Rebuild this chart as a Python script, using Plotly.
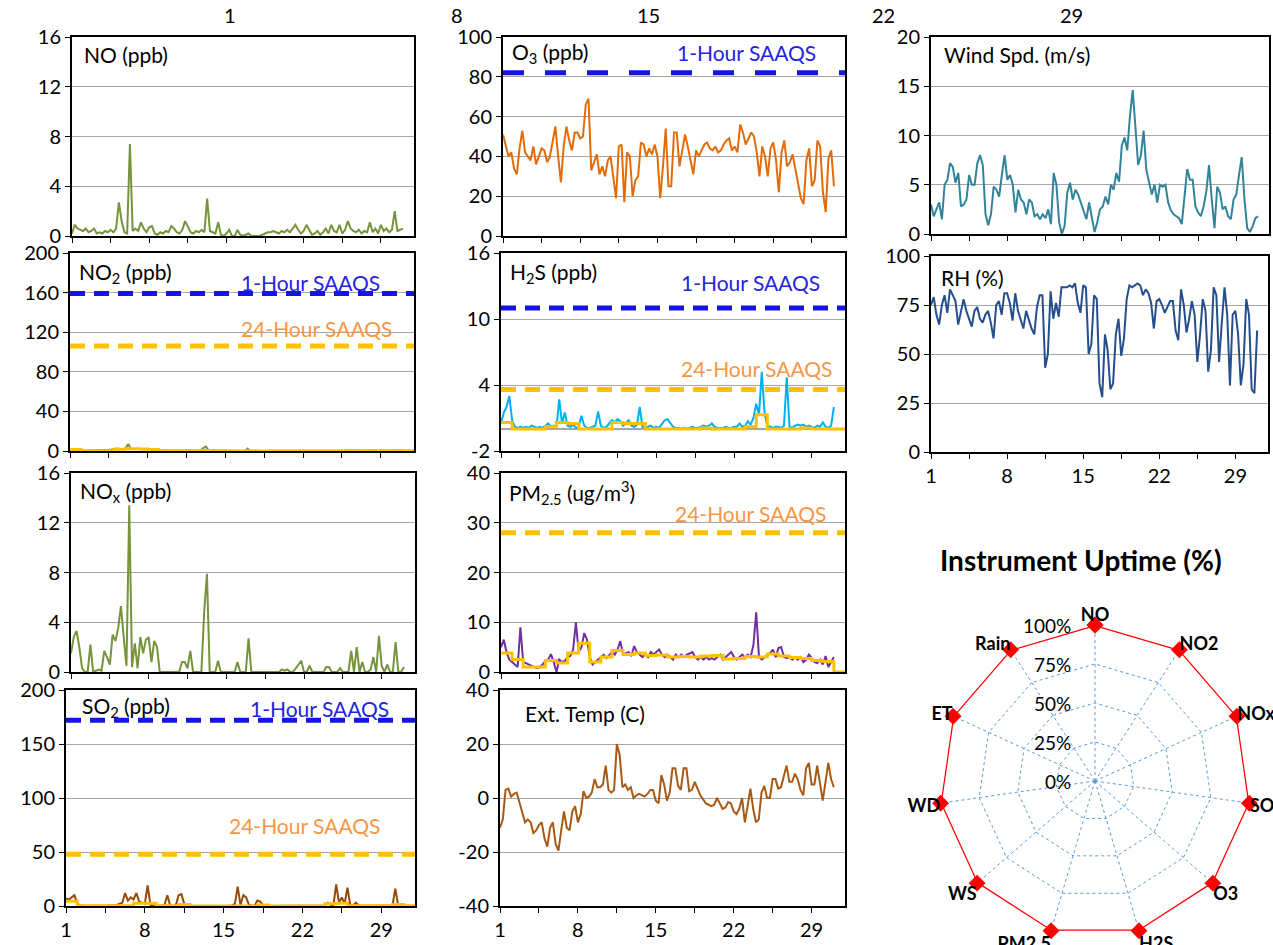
import plotly.graph_objects as go

W, H = 1273, 945
FONT = "Lato, 'Open Sans', sans-serif"

# ---- time axes: 6-hourly readings (day of month) and daily averages ----
hours6 = [1 + i / 4 for i in range(121)]
days = list(range(1, 33))

# ---- hourly-ish series (4 values per day) ----
no_ppb = [0.2, 0.9, 0.6, 0.5, 0.4, 0.6, 0.3, 0.4,
          0.6, 0.2, 0.3, 0.2, 0.4, 0.3, 0.5, 0.3,
          0.6, 2.7, 1.2, 0.3, 0.2, 7.4, 0.4, 0.6,
          0.4, 1.1, 0.6, 0.3, 0.7, 0.8, 0.2, 0.1,
          0.3, 0.2, 0.4, 0.3, 0.8, 0.6, 0.3, 0.2,
          0.5, 1.2, 0.7, 0.3, 0.2, 0.4, 0.3, 0.5,
          0.3, 3.0, 0.4, 0.3, 0.2, 1.1, 0.1, 0.0,
          0.2, 0.5, 0.0, 0.0, 0.5, 0.1, 0.0, 0.1,
          0.2, 0.0, 0.0, 0.0, 0.0, 0.1, 0.2, 0.3,
          0.3, 0.4, 0.3, 0.2, 0.4, 0.3, 0.5, 0.3,
          0.6, 0.9, 0.5, 0.2, 0.4, 0.9, 0.5, 0.1,
          0.2, 0.4, 0.1, 0.3, 0.6, 0.2, 0.9, 0.4,
          0.3, 0.9, 0.2, 0.5, 1.2, 0.6, 0.4, 0.3,
          0.5, 0.2, 0.4, 0.3, 1.1, 0.3, 0.6, 0.2,
          0.9, 0.4, 0.6, 0.3, 0.5, 2.0, 0.4, 0.5,
          0.6]

no2_ppb = [1.5, 1.2, 0.8, 0.5, 0.3, 0.2, 0.3, 0.5,
           0.6, 0.3, 0.4, 0.3, 0.5, 0.6, 1.2, 1.5,
           1.8, 2.5, 2.0, 1.5, 2.2, 7.0, 1.8, 2.0,
           1.6, 2.2, 1.5, 1.8, 2.0, 1.4, 1.6, 1.2,
           0.4, 0.3, 0.2, 0.3, 0.5, 0.4, 0.3, 0.2,
           0.5, 0.8, 0.4, 0.3, 0.2, 0.3, 0.2, 0.5,
           3.0, 4.5, 0.4, 0.3, 0.2, 0.8, 0.1, 0.0,
           0.2, 0.3, 0.0, 0.0, 0.3, 0.1, 0.0, 0.1,
           2.5, 0.0, 0.0, 0.0, 0.0, 0.1, 0.1, 0.2,
           0.2, 0.3, 0.2, 0.1, 0.3, 0.2, 0.3, 0.2,
           0.4, 0.6, 0.4, 0.2, 0.3, 0.6, 0.4, 0.1,
           0.1, 0.3, 0.1, 0.2, 0.4, 0.2, 0.6, 0.3,
           0.2, 0.6, 0.1, 0.3, 0.8, 0.4, 0.3, 0.2,
           0.3, 0.1, 0.3, 0.2, 0.7, 0.2, 0.4, 0.1,
           0.6, 0.3, 0.4, 0.2, 0.3, 1.2, 0.3, 0.3,
           0.4]

nox_ppb = [1.5, 2.8, 3.3, 2.0, 0.3, 0.0, 0.0, 2.2,
           0.0, 0.1, 0.2, 0.1, 1.7, 1.2, 0.6, 3.0,
           2.5, 3.5, 5.3, 2.8, 0.5, 13.4, 0.4, 2.3,
           0.3, 2.8, 1.5, 2.6, 2.8, 0.8, 2.5, 2.0,
           0.0, 0.0, 0.0, 0.0, 0.0, 0.0, 0.0, 0.0,
           0.8, 0.8, 0.3, 1.7, 0.0, 0.0, 0.0, 0.0,
           4.8, 7.9, 0.0, 0.0, 0.0, 0.9, 0.0, 0.0,
           0.0, 0.0, 0.0, 0.0, 0.8, 0.0, 0.0, 0.0,
           2.7, 0.0, 0.0, 0.0, 0.0, 0.0, 0.0, 0.0,
           0.0, 0.0, 0.0, 0.0, 0.2, 0.1, 0.2, 0.0,
           0.0, 0.3, 0.5, 0.9, 0.0, 0.0, 0.5, 0.0,
           0.0, 0.0, 0.0, 0.0, 0.4, 0.4, 0.0, 0.0,
           0.0, 0.3, 0.0, 0.0, 0.0, 1.7, 0.0, 2.0,
           0.0, 0.8, 0.0, 0.0, 0.2, 1.2, 0.0, 2.9,
           0.5, 0.0, 0.6, 0.0, 0.0, 2.4, 0.0, 0.0,
           0.4]

so2_ppb = [7.0, 6.0, 8.0, 10.0, 2.0, 0.5, 0.2, 0.0,
           0.0, 0.0, 0.2, 0.0, 0.0, 0.1, 0.0, 0.3,
           0.5, 0.3, 1.0, 2.0, 3.0, 12.0, 5.0, 8.0,
           6.0, 12.0, 4.0, 3.0, 2.0, 19.0, 1.0, 0.5,
           0.0, 0.2, 0.5, 1.0, 10.0, 0.5, 0.0, 0.5,
           10.0, 11.0, 2.0, 1.0, 0.5, 0.2, 0.0, 0.0,
           0.0, 0.0, 0.0, 0.1, 0.0, 0.0, 0.0, 0.0,
           0.0, 0.0, 0.0, 0.5, 2.0, 18.0, 1.0, 10.0,
           8.0, 1.0, 0.5, 0.3, 5.0, 4.0, 0.5, 0.0,
           0.0, 0.0, 0.0, 0.0, 0.0, 0.0, 0.0, 0.0,
           0.0, 0.0, 0.0, 0.0, 0.0, 0.0, 0.0, 0.0,
           0.0, 0.0, 0.0, 0.0, 0.5, 3.0, 1.0, 0.5,
           20.0, 3.0, 8.0, 2.0, 17.0, 1.0, 0.5, 3.0,
           0.5, 0.0, 0.0, 0.0, 0.0, 0.0, 0.0, 0.0,
           0.0, 0.0, 0.0, 0.0, 0.5, 16.0, 1.0, 0.5,
           0.0]

o3_ppb = [51, 45, 40, 42, 34, 31, 44, 53,
          42, 40, 38, 45, 36, 40, 44, 43,
          37, 40, 47, 55, 40, 27, 45, 55,
          48, 43, 52, 52, 49, 50, 66, 69,
          33, 37, 41, 31, 35, 30, 38, 40,
          28, 19, 45, 46, 17, 42, 40, 20,
          28, 30, 47, 46, 40, 44, 41, 46,
          40, 19, 35, 54, 25, 25, 52, 52,
          35, 44, 51, 45, 38, 31, 43, 40,
          43, 46, 47, 44, 43, 45, 42, 43,
          46, 48, 49, 43, 45, 42, 56, 52,
          46, 49, 52, 50, 42, 30, 45, 40,
          30, 44, 47, 38, 22, 42, 48, 35,
          37, 41, 33, 25, 19, 16, 38, 44,
          25, 28, 48, 45, 22, 12, 39, 43,
          25]

h2s_ppb = [0.5, 1.5, 2.0, 3.0, 0.8, 0.2, 0.1, 0.2,
           0.1, 0.2, 0.1, 0.3, 0.2, 0.1, 0.2, 0.1,
           0.3, 0.5, 0.2, 0.3, 0.2, 2.7, 0.5, 1.5,
           0.3, 0.2, 0.4, 0.1, 0.2, 1.2, 0.3, 0.1,
           0.1, 0.2, 0.3, 1.6, 0.3, 0.1, 0.2, 0.5,
           0.8, 0.6, 0.9, 0.7, 0.3, 0.5, 0.8, 0.3,
           0.2, 0.4, 2.0, 0.2, 0.1, 0.2, 0.3, 0.1,
           0.2, 0.1, 0.5, 0.8, 0.9, 0.6, 0.2, 0.1,
           0.1, 0.0, 0.1, 0.0, 0.1, 0.2, 0.1, 0.1,
           0.2, 0.3, 0.2, 0.3, 0.5, 0.2, 0.1, 0.1,
           0.1, 0.2, 0.1, 0.1, 0.2, 0.2, 0.5, 0.2,
           0.3, 0.7, 0.4, 1.0, 2.3, 1.3, 5.2, 1.5,
           0.3, 0.2, 0.1, 0.2, 0.2, 0.1, 0.3, 4.7,
           0.2, 0.1, 0.3, 0.4, 0.3, 0.4, 0.2, 0.3,
           0.2, 0.1, 0.3, 0.2, 0.6, 0.2, 0.1, 0.3,
           2.0]

pm25 = [5.0, 6.5, 4.0, 2.5, 2.0, 1.5, 1.0, 9.0,
        2.0, 1.8, 1.5, 1.2, 1.0, 0.8, 1.0, 1.5,
        2.2, 2.5, 3.6, 2.0, 0.0, 2.5, 2.0, 2.2,
        3.0, 3.2, 4.5, 10.0, 4.0, 5.0, 7.8, 6.5,
        3.0, 1.5, 2.0, 2.5, 3.0, 3.5, 2.8, 3.5,
        4.0, 3.5, 4.5, 6.2, 3.5, 3.8, 4.0, 3.2,
        5.2, 4.0, 3.5, 3.0, 3.5, 3.0, 4.0, 3.5,
        4.0, 4.5, 3.5, 3.0, 3.5, 3.0, 2.5, 3.5,
        3.0, 3.5, 3.0, 3.5, 3.8, 4.0, 3.0, 2.5,
        3.0, 2.5, 3.0, 2.5, 2.8, 2.5, 3.0, 3.5,
        2.5, 3.0, 3.5, 4.0, 3.0, 2.5, 3.0, 3.5,
        3.0, 3.5, 3.0, 5.5, 12.0, 3.0, 2.5, 3.0,
        3.5, 3.8, 4.5, 3.0, 4.8, 5.0, 3.0, 2.8,
        3.0, 2.5, 3.0, 2.5, 3.0, 2.0, 2.5, 3.5,
        2.8, 2.0, 1.8, 2.5, 1.5, 3.2, 1.0, 2.0,
        3.0]

ext_temp = [-11, -8, 3, 3.5, 0.5, 1.5, 2, -2,
            -5, -9, -8, -9, -13, -12, -10, -9,
            -15, -18, -11, -9, -17, -19.5, -12, -5,
            -11, -12, -5, -3, -9, -6, 2.5, 0,
            0.5, 2, 7, 4, 4, 5, 12, 3,
            2, 3, 20, 16, 4, 5, 3, 4,
            0, 1, 1.5, 1, 0.5, 1.5, 3, 3,
            -1, -2, 8.5, 5, -1, 2, 11, 11,
            4.5, 3, 11, 11, 2.5, 3, 6, 3.5,
            1, -0.5, -2, -2.5, -3, -2.5, 0, -2,
            -4, -3.5, -1.5, -2, -5, -6, -4, 0,
            -9, -3, 3.5, -4, -9, -8, 2, 4.5,
            0, 0, 7, 7, 3.5, 4, 8, 12,
            6, 6, 9, 7, 3, 1, 11, 13,
            5, 5, 12, 6, -1, 6, 13, 7,
            4]

wind_spd = [3.0, 1.8, 2.5, 3.2, 1.5, 5.0, 5.5, 7.2,
            6.8, 5.2, 6.2, 2.8, 3.0, 3.5, 6.0, 5.0,
            5.0, 7.2, 8.0, 7.0, 2.0, 0.9, 2.0, 4.8,
            4.5, 3.8, 6.0, 8.0, 5.5, 6.0, 5.0, 2.2,
            4.5, 3.5, 3.2, 2.0, 3.5, 3.2, 1.8, 2.0,
            1.5, 2.0, 1.6, 2.5, 1.0, 6.2, 5.0, 1.2,
            0.0, 0.8, 4.2, 5.2, 3.5, 4.5, 4.0, 3.2,
            2.5, 1.5, 3.2, 1.5, 0.2, 1.2, 2.5, 2.8,
            3.8, 3.0, 5.0, 4.5, 6.2, 5.3, 9.0, 9.8,
            8.5, 12.0, 14.6, 10.8, 7.0, 8.0, 10.5, 6.5,
            5.2, 4.0, 5.0, 3.2, 5.0, 4.8, 5.0, 3.2,
            2.4, 2.0, 1.8, 1.6, 1.0, 3.5, 6.6, 5.5,
            5.5, 2.8, 2.2, 1.8, 2.8, 4.3, 7.0, 3.5,
            0.6, 4.8, 4.2, 2.5, 2.8, 1.8, 1.5, 3.5,
            4.0, 6.0, 7.8, 3.5, 0.6, 0.2, 0.8, 1.6,
            1.8]

rh_pct = [75, 79, 70, 65, 75, 80, 71, 83,
          80, 77, 65, 72, 78, 72, 68, 64,
          72, 74, 68, 66, 70, 72, 66, 58,
          75, 77, 70, 81, 81, 76, 67, 81,
          72, 67, 63, 72, 67, 63, 60, 74,
          80, 80, 43, 50, 82, 68, 76, 69,
          84, 84, 84, 85, 84, 86, 76, 71,
          85, 84, 50, 55, 80, 78, 35, 28,
          60, 52, 32, 35, 60, 68, 49, 58,
          78, 85, 84, 85, 86, 85, 80, 83,
          81, 76, 63, 77, 78, 75, 71, 74,
          77, 77, 62, 57, 83, 75, 61, 68,
          77, 70, 46, 60, 78, 72, 41, 52,
          84, 80, 46, 66, 84, 70, 34, 70,
          72, 60, 34, 45, 78, 70, 32, 30,
          62]

# ---- daily (24-hour) averages, one per day, drawn as steps ----
no2_24h = [1.5, 0.3, 0.2, 0.3, 1.8, 2.2, 2.0, 1.6, 0.4, 0.3, 0.4, 0.2, 0.6, 0.3, 0.2, 0.1,
           0.2, 0.1, 0.2, 0.2, 0.3, 0.3, 0.2, 0.3, 0.3, 0.4, 0.3, 0.3, 0.3, 0.4, 0.3]
h2s_24h = [0.6, 0.0, 0.0, 0.0, 0.2, 0.6, 0.5, 0.0, 0.0, 0.0, 0.6, 0.5, 0.5, 0.0, 0.0, 0.0,
           0.0, 0.0, 0.1, 0.0, 0.0, 0.0, 0.2, 1.3, 0.0, 0.0, 0.0, 0.1, 0.0, 0.0, 0.0]
pm25_24h = [3.8, 2.5, 1.0, 1.0, 2.3, 1.8, 3.8, 5.8, 2.0, 3.0, 4.3, 3.5, 3.8, 3.3, 3.4, 3.0,
            3.1, 3.0, 3.2, 3.3, 2.6, 2.7, 3.1, 3.0, 3.6, 3.2, 2.9, 2.7, 2.3, 2.1, 0.0]
so2_24h = [4.5, 0.2, 0.2, 0.2, 0.2, 0.2, 2.5, 2.5, 0.3, 0.3, 1.5, 0.1, 0.1, 0.1, 0.1, 0.1,
           0.1, 1.0, 0.1, 0.1, 0.1, 0.1, 0.1, 2.0, 2.5, 0.2, 0.2, 0.2, 0.2, 1.5, 0.2]

# ---- ambient air quality standards ----
no2_1h_std, no2_24h_std = 159, 106
so2_1h_std, so2_24h_std = 172, 48
h2s_1h_std, h2s_24h_std = 11, 3.6
o3_1h_std = 82
pm25_24h_std = 28

# ---- instrument uptime ----
instruments = ["NO", "NO2", "NOx", "SO2", "O3", "H2S", "PM2.5", "WS", "WD", "ET", "Rain"]
uptime = [100, 100, 100, 100, 100, 100, 100, 100, 100, 100, 100]
uptime_ticks = [0, 25, 50, 75, 100]

GREEN = "#77933C"
YELLOW = "#FFC000"
STD_BLUE = "#1414E8"
TXT_BLUE = "#2525E0"
TXT_ORANGE = "#F79646"
TICK_SIZE = 20
LABEL_SIZE = 21

fig = go.Figure()


def ax_id(n):
    return "" if n == 1 else str(n)


def add_panel(n, box, yrange, yticks, show_xlabels=False, zeroline=False):
    x0, x1, y0, y1 = box
    xt = [1 + 3.5 * k for k in range(9)]
    xl = [str(int(v)) if k % 2 == 0 else "" for k, v in enumerate(xt)]
    frame = dict(showline=True, linecolor="black", linewidth=2, mirror=True, automargin=False,
                 ticks="outside", ticklen=5, tickcolor="black", tickwidth=1,
                 tickfont=dict(size=TICK_SIZE, color="black", family=FONT))
    fig.update_layout(**{
        "xaxis" + ax_id(n): dict(domain=[x0 / W, x1 / W], anchor="y" + ax_id(n), range=[1, 32],
                                 tickvals=xt, ticktext=xl, showticklabels=show_xlabels,
                                 showgrid=False, zeroline=False, **frame),
        "yaxis" + ax_id(n): dict(domain=[1 - y1 / H, 1 - y0 / H], anchor="x" + ax_id(n),
                                 range=yrange, tickvals=yticks, ticktext=[str(v) for v in yticks],
                                 showgrid=True, gridcolor="#A6A6A6", gridwidth=1,
                                 zeroline=zeroline, zerolinecolor="#A6A6A6", zerolinewidth=1.5,
                                 **frame),
    })


def line(n, x, y, color, width=2, shape="linear"):
    fig.add_trace(go.Scatter(x=x, y=y, mode="lines", line=dict(color=color, width=width, shape=shape),
                             xaxis="x" + ax_id(n), yaxis="y" + ax_id(n), showlegend=False,
                             hoverinfo="skip"))


def std_line(n, value, color, dash="15px,9px"):
    fig.add_trace(go.Scatter(x=[1, 32], y=[value, value], mode="lines",
                             line=dict(color=color, width=5, dash=dash),
                             xaxis="x" + ax_id(n), yaxis="y" + ax_id(n), showlegend=False,
                             hoverinfo="skip"))


def step(n, daily, color=YELLOW):
    line(n, days, daily + [daily[-1]], color, width=3, shape="hv")


def label(text, x, y, color="black", anchor="left", size=LABEL_SIZE):
    fig.add_annotation(x=x / W, y=1 - y / H, xref="paper", yref="paper", text=text, showarrow=False,
                       xanchor=anchor, yanchor="middle", font=dict(size=size, color=color, family=FONT))


# column 1
add_panel(1, (72, 414, 37, 236), [0, 16], [0, 4, 8, 12, 16])
line(1, hours6, no_ppb, GREEN)
label("NO (ppb)", 82, 55)

add_panel(2, (70, 414, 253, 451), [0, 200], [0, 40, 80, 120, 160, 200])
line(2, hours6, no2_ppb, GREEN)
step(2, no2_24h)
std_line(2, no2_1h_std, STD_BLUE)
std_line(2, no2_24h_std, YELLOW)
label("NO<sub>2</sub> (ppb)", 77, 273)
label("1-Hour SAAQS", 310, 282, TXT_BLUE, "center")
label("24-Hour SAAQS", 316, 328, TXT_ORANGE, "center")

add_panel(3, (71, 415, 473, 672), [0, 16], [0, 4, 8, 12, 16])
line(3, hours6, nox_ppb, GREEN)
label("NO<sub>x</sub> (ppb)", 78, 492)

add_panel(4, (66, 415, 690, 906), [0, 200], [0, 50, 100, 150, 200], show_xlabels=True)
line(4, hours6, so2_ppb, "#984807")
step(4, so2_24h)
std_line(4, so2_1h_std, STD_BLUE)
std_line(4, so2_24h_std, YELLOW)
label("SO<sub>2</sub> (ppb)", 80, 707)
label("1-Hour SAAQS", 319, 708, TXT_BLUE, "center")
label("24-Hour SAAQS", 304, 825, TXT_ORANGE, "center")

# column 2
add_panel(5, (503, 845, 37, 236), [0, 100], [0, 20, 40, 60, 80, 100])
line(5, hours6, o3_ppb, "#E36C09")
std_line(5, o3_1h_std, STD_BLUE, dash="21px,21px")
label("O<sub>3</sub> (ppb)", 510, 53)
label("1-Hour SAAQS", 746, 53, TXT_BLUE, "center")

add_panel(6, (501, 845, 253, 451), [-2, 16], [-2, 4, 10, 16], zeroline=True)
line(6, hours6, h2s_ppb, "#00B0F0")
step(6, h2s_24h)
std_line(6, h2s_1h_std, STD_BLUE)
std_line(6, h2s_24h_std, YELLOW)
label("H<sub>2</sub>S (ppb)", 508, 273)
label("1-Hour SAAQS", 750, 282, TXT_BLUE, "center")
label("24-Hour SAAQS", 756, 368, TXT_ORANGE, "center")

add_panel(7, (501, 845, 473, 672), [0, 40], [0, 10, 20, 30, 40])
line(7, hours6, pm25, "#7030A0")
step(7, pm25_24h)
std_line(7, pm25_24h_std, YELLOW)
label("PM<sub>2.5</sub> (ug/m<sup>3</sup>)", 507, 492)
label("24-Hour SAAQS", 750, 513, TXT_ORANGE, "center")

add_panel(8, (500, 845, 690, 906), [-40, 40], [-40, -20, 0, 20, 40], show_xlabels=True)
line(8, hours6, ext_temp, "#A85A14")
label("Ext. Temp (C)", 523, 713)

# column 3
add_panel(9, (931, 1269, 37, 234), [0, 20], [0, 5, 10, 15, 20])
line(9, hours6, wind_spd, "#31849B")
label("Wind Spd. (m/s)", 942, 55)

add_panel(10, (931, 1268, 256, 452), [0, 100], [0, 25, 50, 75, 100], show_xlabels=True)
line(10, hours6, rh_pct, "#254F8C")
label("RH (%)", 939, 278)

# stray week labels along the top edge
for txt, xpos in zip(["1", "8", "15", "22", "29"], [230, 457, 648, 883, 1071]):
    label(txt, xpos, 15, anchor="center", size=TICK_SIZE)

# instrument uptime radar (centre 1095,781 px, 100% radius 156 px)
fig.add_trace(go.Scatterpolar(
    r=uptime + [uptime[0]], theta=instruments + [instruments[0]], mode="lines+markers",
    line=dict(color="#FF0000", width=2.5), marker=dict(symbol="diamond", size=13, color="#FF0000"),
    showlegend=False, hoverinfo="skip"))

label("<b>Instrument Uptime (%)</b>", 1081, 560, anchor="center", size=28)
for v in uptime_ticks:
    label(f"{v}%", 1073, 781 - 156 * v / 100, anchor="right", size=19)

fig.update_layout(
    polar=dict(
        domain=dict(x=[939 / W, 1251 / W], y=[1 - 937 / H, 1 - 625 / H]),
        bgcolor="white",
        gridshape="linear",
        angularaxis=dict(rotation=90, direction="clockwise", showline=False, ticks="",
                         gridcolor="#5B9BD5", griddash="dot", gridwidth=1,
                         tickfont=dict(size=18, color="black", family=FONT, weight="bold")),
        radialaxis=dict(range=[0, 100], tickvals=uptime_ticks, showticklabels=False, angle=90,
                        showline=False, ticks="", gridcolor="#5B9BD5", griddash="dot", gridwidth=1),
    ),
    width=W, height=H,
    margin=dict(l=0, r=0, t=0, b=0, autoexpand=False),
    paper_bgcolor="white", plot_bgcolor="white",
    font=dict(family=FONT, color="black"),
)

fig.write_html("out.html", config={"displayModeBar": False},
               post_script="document.body.style.margin='0px';")
